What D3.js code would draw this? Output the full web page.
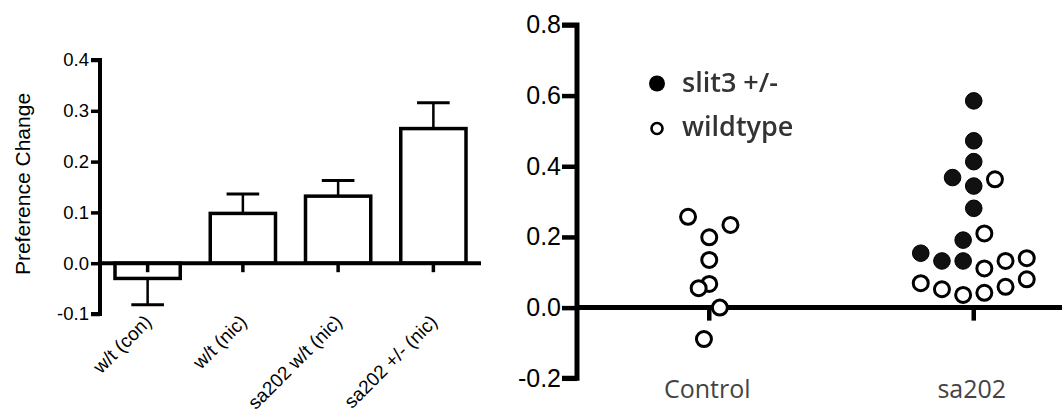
<!DOCTYPE html>
<html>
<head>
<meta charset="utf-8">
<script src="https://cdn.jsdelivr.net/npm/d3@7"></script>
<style>
  html, body { margin: 0; padding: 0; background: #fff; }
  svg { display: block; }
</style>
</head>
<body>
<svg id="chart" width="1062" height="415"></svg>
<script>
// ---------- DATA ----------
// Left panel: bar chart (mean + one-sided SEM)
const barCategories = ["w/t (con)", "w/t (nic)", "sa202 w/t (nic)", "sa202 +/- (nic)"];
const barMeans      = [-0.03, 0.098, 0.132, 0.265];
const barErrors     = [0.052, 0.038, 0.031, 0.051];
const leftTicks     = [-0.1, 0.0, 0.1, 0.2, 0.3, 0.4];
const leftYLabel    = "Preference Change";

// Right panel: dot plot
const dotCategories = ["Control", "sa202"];
const rightTicks    = [-0.2, 0.0, 0.2, 0.4, 0.6, 0.8];
// Control wildtype
const controlWT      = [0.257, 0.234, 0.199, 0.135, 0.067, 0.055, 0.0, -0.089];
const controlWTSlot  = [-2, 2, 0, 0, 0, -1, 1, -0.5];
// sa202 slit3 +/-
const sa202Het       = [0.585, 0.472, 0.413, 0.368, 0.344, 0.281, 0.191, 0.154, 0.132, 0.132];
const sa202HetSlot   = [0, 0, 0, -2, 0, 0, -1, -5, -3, -1];
// sa202 wildtype
const sa202WT        = [0.363, 0.210, 0.111, 0.132, 0.140, 0.069, 0.052, 0.036, 0.042, 0.059, 0.080];
const sa202WTSlot    = [2, 1, 1, 3, 5, -5, -3, -1, 1, 3, 5];
const legendLabels   = ["slit3 +/-", "wildtype"];

// ---------- DRAW ----------
const svg = d3.select("#chart");
const fmt = d => d3.format(".1f")(d).replace("\u2212", "-");

// ===== Left panel =====
const L = svg.append("g");
const lx = d3.scaleBand().domain(barCategories).range([100, 481]);
const ly = d3.scaleLinear().domain([-0.1, 0.4]).range([314, 60]);
const barW = lx.step() * 0.685;
const capW = barW * 0.5;

// bars
L.selectAll("rect.bar").data(barCategories).enter().append("rect")
  .attr("x", d => lx(d) + lx.bandwidth() / 2 - barW / 2)
  .attr("y", (d, i) => ly(Math.max(0, barMeans[i])))
  .attr("width", barW)
  .attr("height", (d, i) => Math.abs(ly(barMeans[i]) - ly(0)))
  .attr("fill", "#fff").attr("stroke", "#000").attr("stroke-width", 3.5);

// error bars (one sided)
barCategories.forEach((c, i) => {
  const cx = lx(c) + lx.bandwidth() / 2;
  const sign = barMeans[i] >= 0 ? 1 : -1;
  const yEnd = barMeans[i] + sign * barErrors[i];
  L.append("line").attr("x1", cx).attr("x2", cx)
    .attr("y1", ly(barMeans[i])).attr("y2", ly(yEnd))
    .attr("stroke", "#000").attr("stroke-width", 2.5);
  L.append("line").attr("x1", cx - capW / 2).attr("x2", cx + capW / 2)
    .attr("y1", ly(yEnd)).attr("y2", ly(yEnd))
    .attr("stroke", "#000").attr("stroke-width", 3);
});

// y axis
const lyAxis = L.append("g").attr("transform", "translate(100,0)")
  .call(d3.axisLeft(ly).tickValues(leftTicks).tickFormat(fmt).tickSize(9).tickPadding(2));
lyAxis.select(".domain").attr("d", `M-9,${ly(0.4)}H0V${ly(-0.1)}H-9`).attr("stroke-width", 4).attr("fill", "none");
lyAxis.selectAll(".tick line").attr("stroke-width", 3.5);
lyAxis.selectAll(".tick text").attr("font-family", "Liberation Sans, Arial, sans-serif").attr("font-size", 18.5).attr("fill", "#000");

// x axis at zero
const lxAxis = L.append("g").attr("transform", `translate(0,${ly(0)})`)
  .call(d3.axisBottom(lx).tickSize(9).tickFormat(""));
lxAxis.select(".domain").attr("d", `M100,0H481`).attr("stroke-width", 4);
lxAxis.selectAll(".tick line").attr("stroke-width", 3.5);

// x labels (rotated)
L.selectAll("text.xl").data(barCategories).enter().append("text")
  .attr("transform", d => `translate(${lx(d) + lx.bandwidth() / 2 + 5},${ly(-0.1) + 9}) rotate(-45)`)
  .attr("text-anchor", "end")
  .attr("font-family", "Liberation Sans, Arial, sans-serif").attr("font-size", 19)
  .text(d => d);

// y label
L.append("text")
  .attr("transform", `translate(30,${(ly(0.4) + ly(-0.1)) / 2 - 3}) rotate(-90)`)
  .attr("text-anchor", "middle")
  .attr("font-family", "Liberation Sans, Arial, sans-serif").attr("font-size", 21)
  .text(leftYLabel);

// ===== Right panel =====
const R = svg.append("g");
const rx = d3.scaleBand().domain(dotCategories).range([577, 1106]);
const ry = d3.scaleLinear().domain([-0.2, 0.8]).range([378.3, 24.9]);
const slotW = 10.6;
const rDot = 8.3;
const cxOf = (cat, slot) => rx(cat) + rx.bandwidth() / 2 + slot * slotW;

// axes
const ryAxis = R.append("g").attr("transform", "translate(577,0)")
  .call(d3.axisLeft(ry).tickValues(rightTicks).tickFormat(fmt).tickSize(15).tickPadding(1));
ryAxis.select(".domain").attr("d", `M-15,${ry(0.8)}H0V${ry(-0.2)}H-15`).attr("stroke-width", 5).attr("fill", "none");
ryAxis.selectAll(".tick line").attr("stroke-width", 4.5);
ryAxis.selectAll(".tick text").attr("font-family", "Liberation Sans, Arial, sans-serif").attr("font-size", 25).attr("fill", "#000");

const rxAxis = R.append("g").attr("transform", `translate(0,${ry(0)})`)
  .call(d3.axisBottom(rx).tickSize(13).tickFormat(""));
rxAxis.select(".domain").attr("d", `M577,0H1062`).attr("stroke-width", 5);
rxAxis.selectAll(".tick line").attr("stroke-width", 4.5);

// category labels
R.selectAll("text.cat").data(dotCategories).enter().append("text")
  .attr("x", d => rx(d) + rx.bandwidth() / 2 - 2)
  .attr("y", 398)
  .attr("text-anchor", "middle")
  .attr("font-family", "Open Sans, sans-serif").attr("font-size", 25).attr("fill", "#444")
  .text(d => d);

// points
function openDots(vals, slots, cat) {
  R.selectAll(null).data(vals).enter().append("circle")
    .attr("cx", (d, i) => cxOf(cat, slots[i]))
    .attr("cy", d => ry(d))
    .attr("r", rDot - 0.8)
    .attr("fill", "#fff").attr("stroke", "#000").attr("stroke-width", 3);
}
function filledDots(vals, slots, cat) {
  R.selectAll(null).data(vals).enter().append("circle")
    .attr("cx", (d, i) => cxOf(cat, slots[i]))
    .attr("cy", d => ry(d))
    .attr("r", rDot)
    .attr("fill", "#111").attr("stroke", "#000").attr("stroke-width", 1);
}
openDots(controlWT, controlWTSlot, "Control");
filledDots(sa202Het, sa202HetSlot, "sa202");
openDots(sa202WT, sa202WTSlot, "sa202");

// legend
const lg = R.append("g");
lg.append("circle").attr("cx", 657).attr("cy", 83.5).attr("r", 8).attr("fill", "#000");
lg.append("circle").attr("cx", 657).attr("cy", 128.5).attr("r", 5.5)
  .attr("fill", "#fff").attr("stroke", "#000").attr("stroke-width", 2.6);
lg.selectAll("text").data(legendLabels).enter().append("text")
  .attr("x", 682).attr("y", (d, i) => 92 + i * 44)
  .attr("font-family", "Open Sans, sans-serif").attr("font-size", 27).attr("font-weight", 600)
  .attr("fill", "#333").attr("style", "filter: blur(0.6px)")
  .text(d => d);
</script>
</body>
</html>
